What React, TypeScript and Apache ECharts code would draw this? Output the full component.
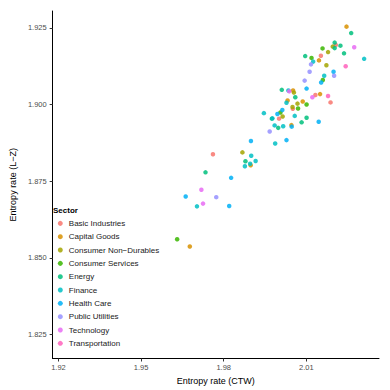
import React, { useEffect, useRef } from "react";
import * as echarts from "echarts";

const sectors = [
  "Basic Industries",
  "Capital Goods",
  "Consumer Non\u2212Durables",
  "Consumer Services",
  "Energy",
  "Finance",
  "Health Care",
  "Public Utilities",
  "Technology",
  "Transportation",
];

const palette = ["#F8766D", "#D89000", "#A3A500", "#39B600", "#00BF7D", "#00BFC4", "#00B0F6", "#9590FF", "#E76BF3", "#FF62BC"];

const basicIndustries = [[2.0207, 1.9194], [2.0153, 1.9159], [2.0133, 1.9031], [2.0188, 1.9007], [2.0051, 1.8986], [2.0001, 1.8954], [1.9761, 1.8838]];
const capitalGoods = [[2.0246, 1.9254], [2.0146, 1.9144], [2.0052, 1.9046], [2.0032, 1.9013], [2.0087, 1.901], [2.015, 1.9034], [2.0046, 1.8933], [1.9898, 1.8802], [1.9677, 1.8537]];
const consumerNonDurables = [[2.0196, 1.9189], [2.0179, 1.9171], [2.0173, 1.9128], [2.0055, 1.9039], [2.0068, 1.9003], [2.005, 1.8992], [2.0014, 1.8961], [1.9868, 1.8844]];
const consumerServices = [[2.0159, 1.9183], [2.0119, 1.9152], [2.016, 1.908], [2.0101, 1.9], [2.007, 1.8987], [2.0006, 1.8974], [1.9631, 1.8561]];
const energy = [[2.0263, 1.9233], [2.0203, 1.9202], [2.0203, 1.9184], [2.0224, 1.9192], [2.0237, 1.9167], [2.0096, 1.9158], [2.0011, 1.9048], [2.006, 1.9024], [1.9975, 1.8954], [2.0101, 1.8957], [2.0083, 1.8942], [1.9998, 1.8924], [1.9879, 1.8815], [1.9734, 1.8779]];
const finance = [[2.031, 1.9149], [2.0125, 1.914], [2.0165, 1.9094], [2.0035, 1.9046], [2.0028, 1.9006], [1.9946, 1.8972], [2.0058, 1.8963], [1.9977, 1.8955], [1.9985, 1.8932], [2.0016, 1.8929], [1.9987, 1.8873], [1.99, 1.8833], [1.9916, 1.8816], [1.9896, 1.8807], [1.9877, 1.8799], [1.9703, 1.8668]];
const healthCare = [[2.0199, 1.9107], [2.0154, 1.9072], [2.0101, 1.9052], [2.0013, 1.8982], [1.9995, 1.8969], [2.0145, 1.8944], [2.0047, 1.8928], [1.9899, 1.8881], [2.0028, 1.8884], [1.9827, 1.8761], [1.9662, 1.87], [1.982, 1.8669]];
const publicUtilities = [[2.0117, 1.9131], [2.0112, 1.9107], [2.0201, 1.9094], [2.0094, 1.9078], [1.9967, 1.8912], [1.9773, 1.8698]];
const technology = [[2.0274, 1.9187], [2.0038, 1.9043], [2.0122, 1.9024], [1.9719, 1.8722], [1.9725, 1.8677]];
const transportation = [[2.0243, 1.9125], [2.0179, 1.9028]];

const sectorData = [basicIndustries, capitalGoods, consumerNonDurables, consumerServices, energy, finance, healthCare, publicUtilities, technology, transportation];

const xTicks = [1.92, 1.95, 1.98, 2.01];
const yTicks = [1.825, 1.85, 1.875, 1.9, 1.925];

const FONT = "Liberation Sans, Arial, Helvetica, sans-serif";

export default function App() {
  const ref = useRef<HTMLDivElement>(null);
  useEffect(() => {
    if (!ref.current) return;
    const chart = echarts.init(ref.current, undefined, { renderer: "svg" });
    chart.setOption({
      animation: false,
      backgroundColor: "#ffffff",
      textStyle: { fontFamily: FONT },
      title: {
        text: "Sector",
        left: 53,
        top: 206,
        textStyle: { fontSize: 8, fontWeight: "bold", color: "#000", fontFamily: FONT },
        padding: 0,
      },
      legend: {
        orient: "vertical",
        left: 57.8,
        top: 216.7,
        padding: 0,
        itemGap: 0,
        itemWidth: 5,
        itemHeight: 5,
        icon: "circle",
        data: sectors,
        textStyle: { fontSize: 8, color: "#1a1a1a", lineHeight: 13.33, padding: [0, 0, 0, 1], fontFamily: FONT },
      },
      grid: { left: 42.7, right: 11, top: 11, bottom: 29, containLabel: false },
      xAxis: {
        type: "value",
        min: 1.9179,
        max: 2.0364,
        name: "Entropy rate (CTW)",
        nameLocation: "middle",
        nameGap: 17.5,
        nameTextStyle: { fontSize: 9, color: "#000", fontFamily: FONT },
        axisLine: { show: true, lineStyle: { color: "#000", width: 1 } },
        axisTick: { show: true, length: 3, customValues: xTicks, lineStyle: { color: "#333" } },
        axisLabel: {
          customValues: xTicks,
          fontSize: 7.5,
          color: "#4D4D4D",
          margin: 4.5,
          formatter: (v: number) => v.toFixed(2),
        },
        splitLine: { show: false },
      },
      yAxis: {
        type: "value",
        min: 1.8172,
        max: 1.9305,
        name: "Entropy rate (L\u2212Z)",
        nameLocation: "middle",
        nameGap: 25,
        nameTextStyle: { fontSize: 9, color: "#000", fontFamily: FONT },
        axisLine: { show: true, lineStyle: { color: "#000", width: 1 } },
        axisTick: { show: true, length: 3, customValues: yTicks, lineStyle: { color: "#333" } },
        axisLabel: {
          customValues: yTicks,
          fontSize: 7.5,
          color: "#4D4D4D",
          margin: 6,
          formatter: (v: number) => v.toFixed(3),
        },
        splitLine: { show: false },
      },
      series: sectors.map((name, i) => ({
        name,
        type: "scatter",
        data: sectorData[i],
        symbol: "circle",
        symbolSize: 4.5,
        itemStyle: { color: palette[i], opacity: 0.85 },
      })),
    });
    return () => chart.dispose();
  }, []);
  return <div ref={ref} style={{ position: "fixed", left: 0, top: 0, width: 390, height: 390 }} />;
}
